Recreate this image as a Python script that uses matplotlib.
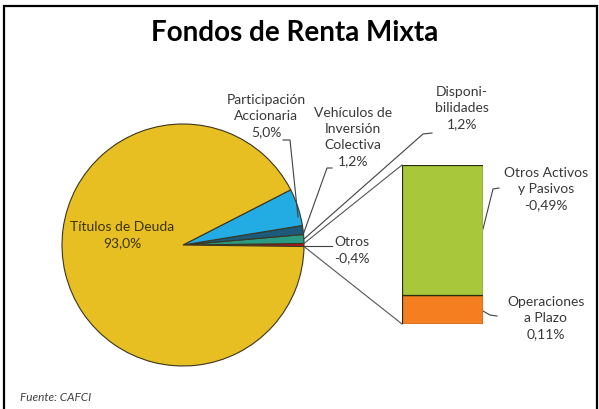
import matplotlib
matplotlib.use("Agg")
import matplotlib.pyplot as plt
from matplotlib.patches import Rectangle
import numpy as np

# ---- data ----
pie_labels = ["Otros", "Disponibilidades", "Vehículos de Inversión Colectiva",
              "Participación Accionaria", "Títulos de Deuda"]
pie_values = [0.4, 1.2, 1.2, 5.0, 93.0]
pie_texts = ["Otros\n-0,4%", "Disponi-\nbilidades\n1,2%",
             "Vehículos de\nInversión\nColectiva\n1,2%",
             "Participación\nAccionaria\n5,0%", "Títulos de Deuda\n93,0%"]
pie_colors = ["#C0141B", "#2A9B82", "#1B5A7A", "#22ACE3", "#E8BF22"]

bar_labels = ["Operaciones a Plazo", "Otros Activos y Pasivos"]
bar_values = [0.11, 0.49]
bar_texts = ["Operaciones\na Plazo\n0,11%", "Otros Activos\ny Pasivos\n-0,49%"]
bar_colors = ["#F57F20", "#A9C73A"]

title = "Fondos de Renta Mixta"
source = "Fuente: CAFCI"

plt.rcParams['font.family'] = ['Lato', 'DejaVu Sans']
W, H = 599, 410
fig = plt.figure(figsize=(W / 100, H / 100), dpi=100)
ax = fig.add_axes([0, 0, 1, 1])

def P(x, y):
    return x, H - y

cx, cy = P(183, 246)
R = 121
total = sum(pie_values)
start = -pie_values[0] / total * 360 / 2
wedges, _ = ax.pie(pie_values, colors=pie_colors, startangle=start,
                   center=(cx, cy), radius=R, counterclock=True,
                   wedgeprops=dict(edgecolor="#3a3520", linewidth=0.8))
ax.set_xlim(0, W)
ax.set_ylim(0, H)
ax.set_aspect('auto')
ax.axis('off')

# border
ax.add_patch(Rectangle(P(4, 412), 593, 405, fill=False, edgecolor="black",
                       linewidth=1.6, clip_on=False))

# title
ax.text(*P(295, 33), title, ha="center", va="center", fontsize=20,
        fontweight="bold", color="black")
ax.text(*P(20, 398), source, ha="left", va="center", fontsize=8.5,
        style="italic", color="#404040")

# bar of pie
bx0, by0, bw, bh = 402, 325, 81, 159
bax = fig.add_axes([bx0 / W, (H - by0) / H, bw / W, bh / H])
bottom = 0
for v, c in zip(bar_values, bar_colors):
    bax.bar(0, v, bottom=bottom, width=1.0, color=c, edgecolor="#2b2b10",
            linewidth=0.9)
    bottom += v
bax.set_xlim(-0.5, 0.5)
bax.set_ylim(0, sum(bar_values))
bax.axis('off')

# connector lines from red wedge to bar corners
w0 = wedges[0]
t1, t2 = np.deg2rad(w0.theta1), np.deg2rad(w0.theta2)
to_main = bax.transData + ax.transData.inverted()
top_left = to_main.transform((-0.5, sum(bar_values)))
bot_left = to_main.transform((-0.5, 0))
lc = "#555555"
ax.plot([cx + R * np.cos(t2), top_left[0]], [cy + R * np.sin(t2), top_left[1]],
        color=lc, lw=0.8)
ax.plot([cx + R * np.cos(t1), bot_left[0]], [cy + R * np.sin(t1), bot_left[1]],
        color=lc, lw=0.8)

# labels
tc = "#383838"
fs = 10
ls = 1.4
def lab(x, y, s, color=tc):
    ax.text(*P(x, y), s, ha="center", va="center", fontsize=fs, color=color,
            linespacing=ls)

lab(122, 235.5, pie_texts[4], color="#3a3300")
lab(266, 116, pie_texts[3])
lab(353, 137, pie_texts[2])
lab(462, 108, pie_texts[1])
lab(352, 250.5, pie_texts[0])
lab(546, 189, bar_texts[1])
lab(546, 318, bar_texts[0])

def leader(pts):
    xs = [p[0] for p in pts]
    ys = [H - p[1] for p in pts]
    ax.plot(xs, ys, color="#404040", lw=0.8)

leader([(283, 141), (290, 141), (298, 218)])
leader([(332, 169), (327, 169), (303, 236)])
leader([(432, 134), (423, 135), (304, 240)])
leader([(304, 247), (332, 247)])
leader([(499, 189), (493, 190), (483, 230)])
leader([(483, 312), (490, 316), (497, 317)])

fig.savefig("out.png", dpi=100)
